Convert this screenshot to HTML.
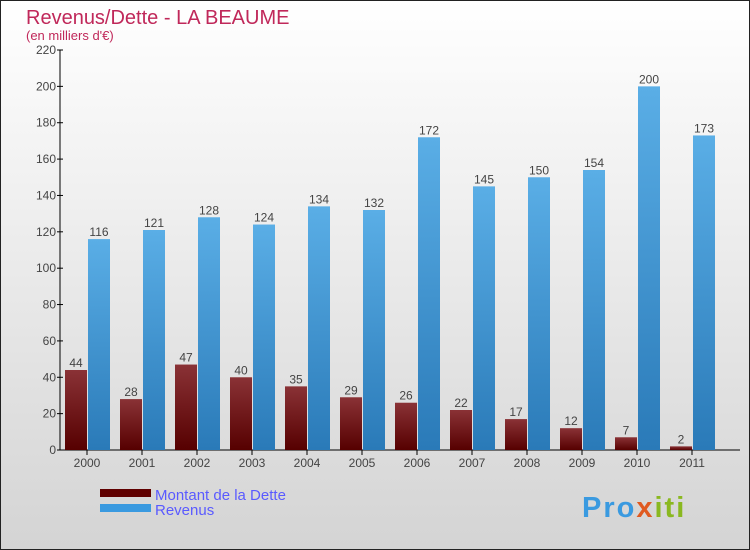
<!DOCTYPE html>
<html><head><meta charset="utf-8"><style>
body{margin:0;width:750px;height:550px;overflow:hidden}
svg{display:block;font-family:"Liberation Sans",sans-serif}
</style></head><body>
<svg id="c" width="750" height="550">
<defs>
<linearGradient id="bg" x1="0" y1="0" x2="0" y2="1"><stop offset="0" stop-color="#ffffff"/><stop offset="1" stop-color="#d4d4d4"/></linearGradient>
<linearGradient id="gd" x1="0" y1="0" x2="0" y2="1"><stop offset="0" stop-color="#8a3236"/><stop offset="1" stop-color="#560000"/></linearGradient>
<linearGradient id="gr" x1="0" y1="0" x2="0" y2="1"><stop offset="0" stop-color="#5aaee6"/><stop offset="1" stop-color="#2a7ab8"/></linearGradient>
</defs>
<rect x="0.5" y="0.5" width="749" height="549" fill="url(#bg)" stroke="#222"/>
<text x="26" y="24" font-size="20" fill="#c0285a">Revenus/Dette - LA BEAUME</text>
<text x="26" y="40" font-size="13" fill="#c0285a">(en milliers d'€)</text>
<g id="ax"></g>
<g id="bars"></g>
<rect x="100" y="489" width="51" height="8" fill="#600000"/>
<text x="155" y="500" font-size="15" fill="#5a5aff">Montant de la Dette</text>
<rect x="100" y="504" width="51" height="8" fill="#3a9ae0"/>
<text x="155" y="515" font-size="15" fill="#5a5aff">Revenus</text>
<text x="582" y="517" font-size="29" font-weight="bold" letter-spacing="2" fill="#3a9ae0">Pro<tspan fill="#e05a20">x</tspan><tspan fill="#8ab820">iti</tspan></text>
</svg>
<script>
const years=["2000","2001","2002","2003","2004","2005","2006","2007","2008","2009","2010","2011"];
const dette=[44,28,47,40,35,29,26,22,17,12,7,2];
const revenus=[116,121,128,124,134,132,172,145,150,154,200,173];
const yTicks=[0,20,40,60,80,100,120,140,160,180,200,220];
const NS="http://www.w3.org/2000/svg";
const y=v=>450-v*400/220;
const x=i=>87+i*55;
function mk(t,a,p){const e=document.createElementNS(NS,t);for(const k in a)e.setAttribute(k,a[k]);p.appendChild(e);return e;}
const ax=document.getElementById('ax'),bars=document.getElementById('bars');
const yl=mk('line',{x1:60,y1:50,x2:60,y2:450,stroke:'#000'},ax);


const xl=mk('line',{x1:60,y1:450,x2:740,y2:450,stroke:'#000'},ax);


yTicks.forEach(v=>{
 mk('line',{x1:57,y1:y(v),x2:63,y2:y(v),stroke:'#000'},ax);
 const t=mk('text',{x:56,y:y(v)+4,'text-anchor':'end','font-size':12,fill:'#444'},ax);t.textContent=v;
 
 
});
years.forEach((yr,i)=>{
 mk('line',{x1:x(i),y1:450,x2:x(i),y2:455,stroke:'#000'},ax);
 const t=mk('text',{x:x(i),y:467,'text-anchor':'middle','font-size':12,fill:'#444'},ax);t.textContent=yr;
 
 
 const d=mk('rect',{x:x(i)-22,y:y(dette[i]),width:22,height:450-y(dette[i]),fill:'url(#gd)'},bars);
 
 
 const r=mk('rect',{x:x(i)+1,y:y(revenus[i]),width:22,height:450-y(revenus[i]),fill:'url(#gr)'},bars);
 
 
 const dl=mk('text',{x:x(i)-11,y:y(dette[i])-3,'text-anchor':'middle','font-size':12,fill:'#444'},bars);dl.textContent=dette[i];
 
 
 const rl=mk('text',{x:x(i)+12,y:y(revenus[i])-3,'text-anchor':'middle','font-size':12,fill:'#444'},bars);rl.textContent=revenus[i];
 
 
});
</script>
</body></html>
